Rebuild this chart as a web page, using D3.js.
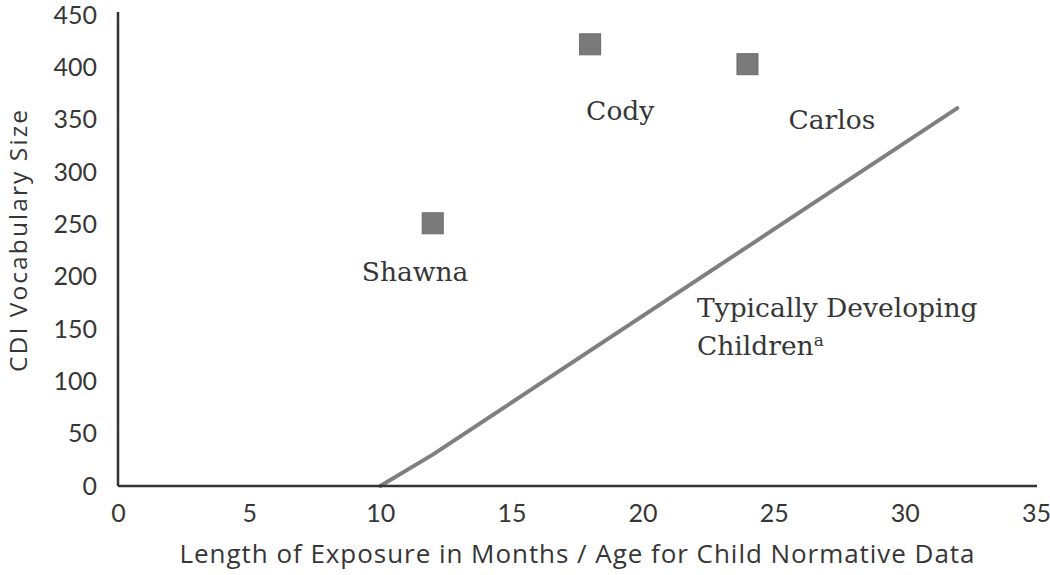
<!DOCTYPE html>
<html>
<head>
<meta charset="utf-8">
<script src="https://cdn.jsdelivr.net/npm/d3@7"></script>
<style>
  html, body { margin: 0; padding: 0; background: #fff; }
  svg { display: block; }
</style>
</head>
<body>
<div id="chart"></div>
<script>
// ---- data ----
const xTicks = [0, 5, 10, 15, 20, 25, 30, 35];
const yTicks = [0, 50, 100, 150, 200, 250, 300, 350, 400, 450];
const childNames = ["Shawna", "Cody", "Carlos"];
const childExposure = [12, 18, 24];
const childVocab = [251, 422, 403];
const normAge = [10, 12, 32];
const normVocab = [0, 30, 361];
const normLabel = ["Typically Developing", "Children"];
const xTitle = "Length of Exposure in Months / Age for Child Normative Data";
const yTitle = "CDI Vocabulary Size";

// ---- layout ----
const W = 1050, H = 575;
const svg = d3.select("#chart").append("svg").attr("width", W).attr("height", H);

const x = d3.scaleLinear().domain([0, 35]).range([118, 1036]);
const y = d3.scaleLinear().domain([0, 450]).range([486, 15]);

const tickFont = "Lato, 'Open Sans', sans-serif";
const titleFont = "'Open Sans', Lato, sans-serif";
const serif = "'DejaVu Serif', serif";
const textCol = "#363636";

// normative line
const line = d3.line().x((d, i) => x(normAge[i])).y((d, i) => y(normVocab[i]));
svg.append("path")
  .datum(normAge)
  .attr("d", line)
  .attr("fill", "none")
  .attr("stroke", "#7f7f7f")
  .attr("stroke-width", 4)
  .attr("stroke-linecap", "round")
  .attr("stroke-linejoin", "round");

// axes
const xAxis = svg.append("g").attr("transform", `translate(0,${y(0)})`)
  .call(d3.axisBottom(x).tickValues(xTicks).tickSize(0).tickPadding(18));
xAxis.select(".domain").attr("stroke", "#333").attr("stroke-width", 2.5)
  .attr("d", `M${x(0)},0H${x(35) + 1}`);
xAxis.selectAll("text").attr("font-family", tickFont).attr("font-size", 25).attr("fill", textCol);

const yAxis = svg.append("g").attr("transform", `translate(${x(0)},0)`)
  .call(d3.axisLeft(y).tickValues(yTicks).tickSize(0).tickPadding(21));
yAxis.select(".domain").attr("stroke", "#333").attr("stroke-width", 2.5)
  .attr("d", `M0,12V${y(0)}`);
yAxis.selectAll("text").attr("font-family", tickFont).attr("font-size", 25).attr("fill", textCol);

// child points
const sq = 21;
svg.selectAll("rect.pt")
  .data(childNames)
  .enter().append("rect")
  .attr("class", "pt")
  .attr("x", (d, i) => x(childExposure[i]) - sq / 2)
  .attr("y", (d, i) => y(childVocab[i]) - sq / 2)
  .attr("width", sq).attr("height", sq)
  .attr("fill", "#7a7a7a")
  .attr("stroke", "#6a6a6a")
  .attr("stroke-width", 1);

// child labels (offsets relative to each point)
const labelDx = [-71, -4, 41];
const labelDy = [58, 76, 65];
svg.selectAll("text.lbl")
  .data(childNames)
  .enter().append("text")
  .attr("class", "lbl")
  .attr("x", (d, i) => x(childExposure[i]) + labelDx[i])
  .attr("y", (d, i) => y(childVocab[i]) + labelDy[i])
  .attr("font-family", serif)
  .attr("font-size", 26.5)
  .attr("fill", textCol)
  .text(d => d);

// normative label
const nl = svg.append("text")
  .attr("font-family", serif)
  .attr("font-size", 26.5)
  .attr("fill", textCol);
nl.append("tspan").attr("x", 697).attr("y", 317).text(normLabel[0]);
nl.append("tspan").attr("x", 697).attr("y", 355).text(normLabel[1]);
nl.append("tspan").attr("font-size", 17).attr("dy", -9).text("a");

// axis titles
svg.append("text")
  .attr("x", 577).attr("y", 563)
  .attr("text-anchor", "middle")
  .attr("font-family", titleFont).attr("font-size", 26)
  .attr("textLength", 795).attr("lengthAdjust", "spacing")
  .attr("fill", textCol)
  .text(xTitle);

svg.append("text")
  .attr("transform", `translate(27,${241}) rotate(-90)`)
  .attr("text-anchor", "middle")
  .attr("font-family", titleFont).attr("font-size", 24.5)
  .attr("textLength", 262).attr("lengthAdjust", "spacing")
  .attr("fill", textCol)
  .text(yTitle);
</script>
</body>
</html>
